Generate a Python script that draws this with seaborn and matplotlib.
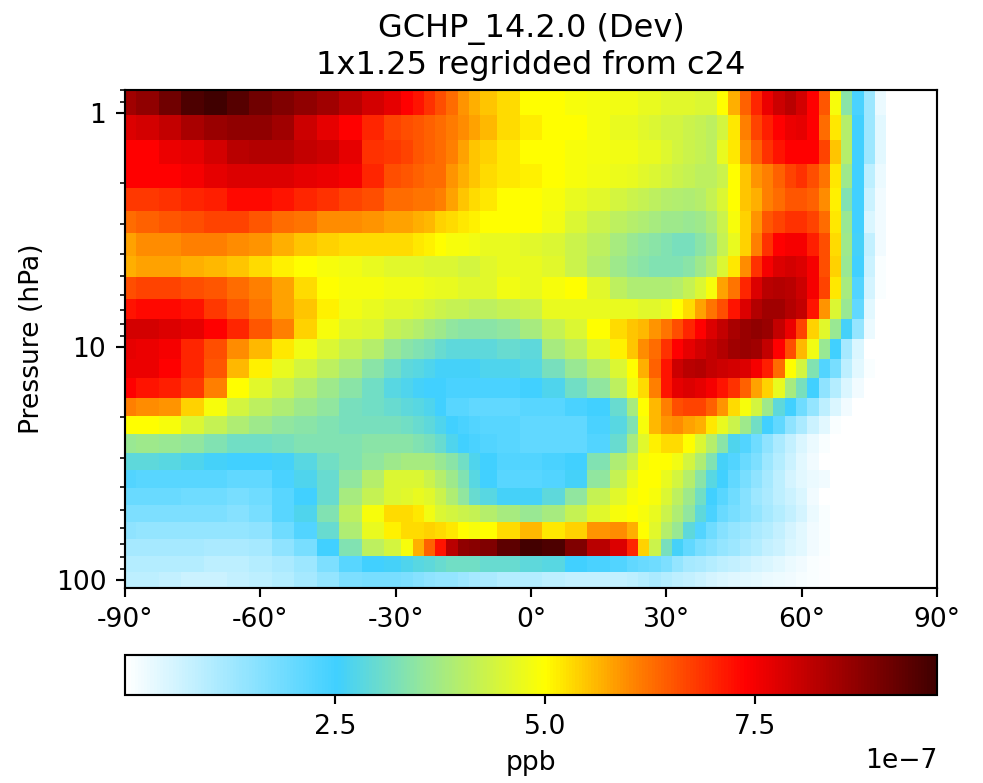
# zonal mean panel, GCHP dev
import numpy as np
import pandas as pd
import matplotlib
matplotlib.use("Agg")
import matplotlib.pyplot as plt
import seaborn as sns
from matplotlib.colors import LinearSegmentedColormap

# ---------------- DATA (1e-7 ppb) ----------------
# latitude bin edges, finer where the field changes fast
lat_edges = [-90, -87.5, -82.5, -77.5, -72.5, -67.5, -62.5, -57.5, -52.5, -47.5, -42.5, -37.5,
             -32.5, -28.75, -26.25, -23.75, -21.25, -18.75, -16.25, -13.75,
             -11.25, -7.5, -2.5, 2.5, 7.5, 12.5,
             17.5, 21.25, 23.75, 26.25, 28.75, 31.25, 33.75, 36.25, 38.75, 41.25, 43.75, 46.25, 48.75, 51.25,
             53.75, 56.25, 58.75, 61.25, 63.75, 66.25, 68.75, 71.25, 73.75, 76.25, 78.75, 90]
pres_edges = [0.797, 1.02, 1.305, 1.654, 2.095, 2.63, 3.27, 4.10, 5.04, 6.26, 7.63, 9.29, 11.3,
              13.6, 16.6, 19.8, 23.7, 28.6, 33.8, 40.4, 47.7, 56.4, 66.8, 78.9, 92.4, 108.2]

lev01 = [8.5, 8.7, 9.1, 9.5, 9.67, 9.4, 9.1, 8.9, 8.7, 8.5, 8.2, 7.9, 7.7, 7.4, 7.2, 6.9, 6.6, 6.3, 5.9, 5.7, 5.5, 5.3, 5.0, 5.0, 4.9, 4.85,
         4.8, 4.8, 4.7, 4.7, 4.6, 4.6, 4.6, 4.5, 4.5, 5.0, 5.7, 6.4, 7.0, 7.6, 8.0, 8.2, 7.9, 7.4, 6.5, 4.9, 3.4, 2.4, 1.3, 0.3, 0]
lev02 = [7.8, 7.9, 8.1, 8.4, 8.6, 8.7, 8.7, 8.5, 8.0, 7.7, 7.4, 7.0, 6.7, 6.6, 6.5, 6.4, 6.3, 6.15, 6.0, 5.8, 5.6, 5.3, 5.15, 5.0, 5.0, 4.85,
         4.7, 4.7, 4.6, 4.5, 4.4, 4.4, 4.3, 4.2, 4.1, 4.4, 5.2, 6.1, 6.7, 7.1, 7.4, 7.6, 7.7, 7.4, 6.3, 5.2, 4.0, 2.5, 1.3, 0.4, 0]
lev03 = [7.4, 7.4, 7.6, 7.7, 7.9, 8.2, 8.3, 8.3, 8.1, 8.0, 7.7, 6.9, 6.8, 6.7, 6.5, 6.4, 6.3, 6.1, 5.8, 5.5, 5.4, 5.2, 5.0, 5.0, 4.9, 4.85,
         4.8, 4.8, 4.7, 4.7, 4.55, 4.4, 4.3, 4.2, 4.1, 4.7, 5.2, 5.9, 6.4, 6.9, 7.2, 7.4, 7.4, 7.4, 6.7, 5.5, 4.0, 2.5, 1.3, 0.4, 0]
lev04 = [7.4, 7.4, 7.4, 7.5, 7.7, 7.8, 7.8, 7.8, 7.7, 7.6, 7.5, 7.0, 6.6, 6.5, 6.4, 6.3, 6.3, 5.9, 5.7, 5.5, 5.3, 5.2, 5.1, 5.0, 4.9, 4.8,
         4.75, 4.7, 4.6, 4.5, 4.4, 4.3, 4.2, 4.1, 4.1, 4.3, 5.0, 5.5, 5.9, 6.1, 6.4, 6.7, 6.9, 6.6, 6.2, 5.2, 3.7, 2.5, 0.9, 0.3, 0]
lev05 = [6.8, 6.8, 6.9, 7.0, 7.1, 7.3, 7.3, 7.2, 7.0, 6.9, 6.7, 6.6, 6.3, 6.3, 6.2, 6.2, 6.1, 5.8, 5.5, 5.3, 5.2, 5.0, 5.0, 4.9, 4.7, 4.6,
         4.4, 4.3, 4.2, 4.1, 4.0, 3.95, 3.9, 4.0, 4.2, 4.5, 5.0, 5.5, 5.7, 6.1, 6.3, 6.5, 6.5, 6.4, 6.0, 5.1, 3.3, 2.5, 0.7, 0.2, 0]
lev06 = [6.3, 6.4, 6.5, 6.6, 6.7, 6.7, 6.5, 6.3, 6.2, 6.0, 6.0, 5.9, 5.8, 5.8, 5.7, 5.6, 5.4, 5.3, 5.2, 5.1, 5.0, 5.0, 5.0, 4.8, 4.5, 4.3,
         4.1, 4.0, 3.9, 3.8, 3.7, 3.7, 3.6, 3.7, 3.9, 4.3, 4.9, 5.4, 5.9, 6.5, 6.7, 6.9, 6.9, 6.7, 6.3, 5.2, 3.6, 2.5, 0.5, 0.2, 0]
lev07 = [5.8, 6.0, 6.0, 6.1, 6.1, 6.0, 5.9, 5.7, 5.5, 5.4, 5.3, 5.3, 5.3, 5.3, 5.2, 5.1, 5.0, 4.9, 4.9, 4.8, 4.7, 4.7, 4.6, 4.5, 4.3, 4.1,
         3.8, 3.6, 3.5, 3.4, 3.3, 3.2, 3.2, 3.4, 3.7, 4.2, 4.7, 5.4, 6.1, 6.9, 7.4, 7.5, 7.5, 7.1, 6.6, 5.3, 3.7, 2.6, 0.8, 0.2, 0]
lev08 = [5.7, 5.8, 5.8, 5.7, 5.6, 5.5, 5.3, 5.1, 5.0, 4.9, 4.8, 4.7, 4.6, 4.6, 4.6, 4.5, 4.5, 4.5, 4.4, 4.4, 4.6, 4.7, 4.7, 4.6, 4.3, 4.0,
         3.7, 3.5, 3.4, 3.3, 3.3, 3.3, 3.4, 3.7, 4.0, 4.5, 5.2, 6.0, 6.9, 7.5, 7.8, 7.9, 7.8, 7.5, 6.6, 5.4, 3.6, 2.5, 0.7, 0.1, 0]
lev09 = [6.6, 6.7, 6.7, 6.6, 6.5, 6.3, 6.1, 5.8, 5.3, 5.0, 4.9, 4.9, 4.8, 4.8, 4.8, 4.75, 4.7, 4.7, 4.6, 4.6, 4.6, 4.8, 4.7, 4.9, 5.0, 4.6,
         4.1, 3.9, 3.9, 3.9, 3.9, 4.0, 4.2, 4.5, 4.9, 5.8, 6.2, 7.0, 7.8, 8.2, 8.3, 8.2, 8.0, 7.5, 6.7, 5.2, 3.8, 2.3, 0.6, 0.1, 0]
lev10 = [7.2, 7.3, 7.3, 7.2, 6.8, 6.5, 6.2, 5.8, 5.5, 5.1, 4.8, 4.7, 4.6, 4.6, 4.5, 4.4, 4.3, 4.2, 4.2, 4.1, 4.1, 4.2, 4.3, 4.7, 4.7, 4.7,
         4.7, 4.7, 4.6, 4.6, 4.7, 5.0, 5.3, 5.8, 6.2, 6.6, 7.2, 7.8, 8.3, 8.5, 8.5, 8.3, 8.1, 7.2, 5.9, 4.5, 3.6, 2.1, 0.4, 0, 0]
lev11 = [7.9, 7.9, 7.8, 7.7, 7.4, 7.0, 6.5, 6.1, 5.4, 4.9, 4.6, 4.5, 4.2, 4.1, 4.0, 3.8, 3.7, 3.5, 3.4, 3.4, 3.4, 3.5, 3.8, 4.2, 4.5, 5.0,
         5.3, 5.5, 5.6, 5.9, 6.2, 6.6, 7.0, 7.4, 7.8, 8.1, 8.4, 8.6, 8.7, 8.6, 8.1, 7.6, 6.7, 5.4, 4.6, 3.6, 2.6, 1.4, 0.3, 0, 0]
lev12 = [7.7, 7.6, 7.5, 7.0, 6.6, 6.0, 5.6, 5.2, 4.8, 4.5, 4.2, 4.0, 3.6, 3.4, 3.3, 3.2, 3.0, 2.9, 2.9, 2.9, 2.9, 3.0, 2.9, 3.8, 4.1, 4.6,
         5.1, 5.5, 6.0, 6.3, 6.9, 7.4, 7.7, 7.9, 8.1, 8.3, 8.5, 8.6, 8.5, 8.1, 7.4, 6.6, 5.6, 4.8, 3.6, 2.5, 1.2, 0.5, 0, 0, 0]
lev13 = [7.6, 7.6, 7.4, 7.0, 6.5, 5.6, 5.1, 4.7, 4.4, 4.1, 3.8, 3.4, 3.1, 2.9, 2.8, 2.7, 2.6, 2.6, 2.6, 2.6, 2.7, 2.7, 2.8, 3.2, 3.6, 4.0,
         4.5, 5.0, 5.7, 6.4, 7.2, 8.0, 8.2, 8.3, 8.1, 8.0, 7.9, 7.8, 7.5, 7.1, 6.3, 5.0, 4.4, 3.3, 2.3, 1.8, 0.9, 0.4, 0.1, 0, 0]
lev14 = [7.4, 7.2, 7.1, 6.8, 6.1, 5.0, 4.6, 4.3, 4.0, 3.7, 3.4, 3.1, 2.8, 2.7, 2.6, 2.5, 2.5, 2.4, 2.4, 2.4, 2.4, 2.4, 2.5, 2.7, 3.1, 3.5,
         4.1, 4.8, 5.3, 6.1, 7.2, 7.7, 7.8, 7.7, 7.5, 7.2, 6.9, 6.4, 5.8, 5.4, 4.7, 3.8, 3.2, 2.5, 1.5, 1.0, 0.5, 0.2, 0, 0, 0]
lev15 = [6.1, 6.0, 5.9, 5.4, 4.9, 4.4, 4.1, 3.9, 3.7, 3.5, 3.2, 3.1, 3.0, 2.9, 2.8, 2.7, 2.5, 2.2, 2.2, 2.1, 2.1, 2.1, 2.2, 2.2, 2.4, 2.5,
         3.0, 3.8, 5.0, 5.6, 6.1, 6.6, 6.7, 6.7, 6.4, 5.9, 5.3, 4.9, 4.4, 3.7, 2.9, 2.5, 1.9, 1.4, 0.9, 0.5, 0.2, 0, 0, 0, 0]
lev16 = [5.0, 5.0, 4.9, 4.5, 4.2, 3.9, 3.7, 3.5, 3.4, 3.3, 3.2, 3.2, 3.2, 3.1, 3.0, 2.9, 2.7, 2.5, 2.4, 2.3, 2.2, 2.2, 2.1, 2.1, 2.1, 2.4,
         2.8, 3.3, 4.9, 5.6, 5.9, 6.0, 5.8, 5.7, 5.2, 4.7, 4.3, 3.7, 3.1, 2.5, 2.1, 1.5, 1.1, 0.7, 0.4, 0.1, 0, 0, 0, 0, 0]
lev17 = [3.6, 3.7, 3.6, 3.5, 3.3, 3.1, 3.1, 3.2, 3.3, 3.3, 3.3, 3.4, 3.4, 3.4, 3.3, 3.2, 3.0, 2.7, 2.5, 2.4, 2.3, 2.2, 2.1, 2.1, 2.1, 2.3,
         3.0, 3.8, 4.6, 5.1, 5.3, 5.3, 5.0, 4.5, 4.0, 3.4, 2.7, 2.3, 1.9, 1.5, 1.1, 0.8, 0.5, 0.3, 0.1, 0, 0, 0, 0, 0, 0]
lev18 = [2.9, 2.9, 2.8, 2.7, 2.6, 2.5, 2.5, 2.6, 2.8, 3.1, 3.3, 3.5, 3.7, 3.8, 3.8, 3.8, 3.6, 3.4, 3.1, 2.7, 2.5, 2.3, 2.3, 2.4, 2.5, 3.3,
         3.9, 4.3, 4.9, 5.0, 5.0, 4.8, 4.4, 3.9, 3.3, 2.6, 2.3, 2.0, 1.7, 1.3, 1.0, 0.7, 0.4, 0.2, 0, 0, 0, 0, 0, 0, 0]
lev19 = [2.3, 2.2, 2.2, 2.2, 2.2, 2.1, 2.1, 2.4, 2.7, 3.0, 3.5, 4.0, 4.5, 4.5, 4.5, 4.3, 4.0, 3.7, 3.3, 2.8, 2.5, 2.2, 2.2, 2.3, 2.6, 3.5,
         4.2, 4.7, 5.0, 5.0, 4.7, 4.4, 4.0, 3.4, 2.8, 2.5, 2.1, 1.8, 1.5, 1.2, 0.9, 0.6, 0.4, 0.3, 0.2, 0, 0, 0, 0, 0, 0]
lev20 = [2.0, 2.0, 2.0, 1.9, 1.9, 1.8, 1.9, 2.2, 2.5, 3.0, 3.8, 4.2, 4.5, 4.6, 4.7, 4.6, 4.3, 3.9, 3.5, 3.0, 2.8, 2.6, 2.6, 2.9, 3.5, 4.2,
         4.6, 4.9, 5.0, 4.9, 4.5, 4.1, 3.7, 3.1, 2.5, 2.2, 1.9, 1.6, 1.3, 1.1, 0.9, 0.7, 0.5, 0.2, 0, 0, 0, 0, 0, 0, 0]
lev21 = [1.7, 1.7, 1.7, 1.7, 1.7, 1.6, 1.8, 2.2, 2.7, 3.3, 4.1, 4.9, 5.3, 5.3, 5.2, 4.8, 4.5, 4.4, 4.3, 4.2, 4.0, 3.8, 3.6, 3.8, 4.2, 4.6,
         4.9, 5.0, 4.9, 4.7, 4.3, 3.9, 3.5, 2.9, 2.4, 2.0, 1.8, 1.6, 1.4, 1.2, 1.0, 0.8, 0.6, 0.3, 0.1, 0, 0, 0, 0, 0, 0]
lev22 = [1.5, 1.4, 1.4, 1.4, 1.4, 1.4, 1.5, 1.9, 2.3, 3.0, 3.9, 4.7, 5.1, 5.3, 5.3, 5.4, 5.3, 5.2, 5.0, 4.9, 5.0, 5.3, 5.6, 5.2, 5.4, 5.9,
         6.0, 5.7, 5.0, 4.6, 4.0, 3.6, 2.9, 2.3, 1.9, 1.6, 1.4, 1.3, 1.1, 1.0, 0.8, 0.6, 0.4, 0.2, 0.1, 0, 0, 0, 0, 0, 0]
lev23 = [1.2, 1.2, 1.2, 1.2, 1.1, 1.1, 1.2, 1.5, 1.8, 2.5, 3.3, 4.1, 4.4, 4.9, 5.7, 6.4, 7.2, 8.2, 8.7, 8.8, 8.9, 9.3, 9.6, 9.5, 8.9, 8.2,
         7.8, 7.0, 5.4, 4.3, 3.2, 2.6, 2.1, 1.8, 1.6, 1.4, 1.3, 1.1, 1.0, 0.8, 0.7, 0.5, 0.4, 0.2, 0.1, 0, 0, 0, 0, 0, 0]
lev24 = [1.0, 1.0, 1.0, 1.0, 0.9, 0.9, 1.0, 1.1, 1.3, 1.7, 2.2, 2.5, 2.6, 2.7, 2.8, 2.9, 3.0, 3.1, 3.1, 3.1, 3.0, 3.0, 2.9, 2.8, 2.5, 2.4,
         2.3, 2.1, 2.0, 1.9, 1.7, 1.4, 1.2, 1.1, 1.0, 0.9, 0.8, 0.7, 0.6, 0.5, 0.4, 0.3, 0.2, 0.1, 0.05, 0, 0, 0, 0, 0, 0]
lev25 = [0.9, 0.9, 0.8, 0.7, 0.7, 0.8, 0.9, 1.0, 1.2, 1.4, 1.7, 1.8, 1.8, 1.7, 1.6, 1.5, 1.4, 1.4, 1.3, 1.2, 1.1, 1.0, 1.0, 0.9, 0.8, 0.8,
         0.8, 0.9, 1.0, 1.1, 1.0, 0.9, 0.8, 0.7, 0.6, 0.5, 0.45, 0.4, 0.35, 0.3, 0.25, 0.2, 0.15, 0.1, 0.05, 0, 0, 0, 0, 0, 0]

levels = [lev01, lev02, lev03, lev04, lev05, lev06, lev07, lev08, lev09, lev10, lev11, lev12, lev13,
          lev14, lev15, lev16, lev17, lev18, lev19, lev20, lev21, lev22, lev23, lev24, lev25]
lat_ticks = [-90, -60, -30, 0, 30, 60, 90]
lat_labels = ["-90°", "-60°", "-30°", "0°", "30°", "60°", "90°"]
cbar_ticks = [2.5e-7, 5.0e-7, 7.5e-7]

# ---------------- COLORMAP ----------------
cmap = LinearSegmentedColormap.from_list("WhGrYlRd", [
    (0.0, "#ffffff"), (0.26, "#40d0ff"), (0.36, "#90e6a0"), (0.517, "#ffff00"),
    (0.63, "#ff8000"), (0.765, "#ff0000"), (1.0, "#400000")])

# ---------------- PLOT ----------------
W, H = 983, 783
DPI = 192
fig = plt.figure(figsize=(W / DPI, H / DPI), dpi=DPI)
ax = fig.add_axes([125 / W, (H - 588) / H, 812 / W, 498 / H])
cax = fig.add_axes([125 / W, (H - 695) / H, 812 / W, 40 / H])

df = pd.DataFrame(np.array(levels) * 1e-7)
sns.heatmap(df, ax=ax, cbar_ax=cax, cmap=cmap, vmin=0, vmax=9.67e-7,
            xticklabels=False, yticklabels=False,
            cbar_kws={"orientation": "horizontal", "label": "ppb"})

# cells stay in row/column units, the scales stretch them to lat and log pressure
col_pos = np.arange(len(lat_edges))
row_pos = np.arange(len(pres_edges))
log_edges = np.log10(pres_edges)
ax.set_xscale("function", functions=(lambda c: np.interp(c, col_pos, lat_edges),
                                     lambda v: np.interp(v, lat_edges, col_pos)))
ax.set_yscale("function", functions=(lambda r: np.interp(r, row_pos, log_edges),
                                     lambda v: np.interp(v, log_edges, row_pos)))
ax.set_xlim(col_pos[0], col_pos[-1])
ax.set_ylim(row_pos[-1], row_pos[0])


def pres_to_row(p):
    return np.interp(np.log10(p), log_edges, row_pos)


ax.set_xticks(np.interp(lat_ticks, lat_edges, col_pos), lat_labels)
ax.set_yticks(pres_to_row([1, 10, 100]), ["1", "10", "100"])
minor = [m * d for d in (0.1, 1, 10) for m in range(2, 10) if 0.797 < m * d < 108.2]
ax.set_yticks(pres_to_row(minor), minor=True)
ax.tick_params(axis="both", labelsize=10)
ax.tick_params(axis="x", labelrotation=0)
ax.tick_params(axis="y", labelrotation=0)
ax.set_ylabel("Pressure (hPa)", fontsize=10)
ax.set_xlabel("")
for sp in ax.spines.values():
    sp.set_visible(True)
    sp.set_linewidth(0.8)
ax.set_title("GCHP_14.2.0 (Dev)\n1x1.25 regridded from c24", fontsize=12)

cb = ax.collections[0].colorbar
cb.outline.set_visible(True)
cb.outline.set_linewidth(0.8)
cb.set_ticks(cbar_ticks)
cb.ax.tick_params(labelsize=10)
cb.ax.xaxis.get_offset_text().set_fontsize(10)
cb.set_label("ppb", fontsize=10)

fig.savefig("out.png", dpi=DPI)
